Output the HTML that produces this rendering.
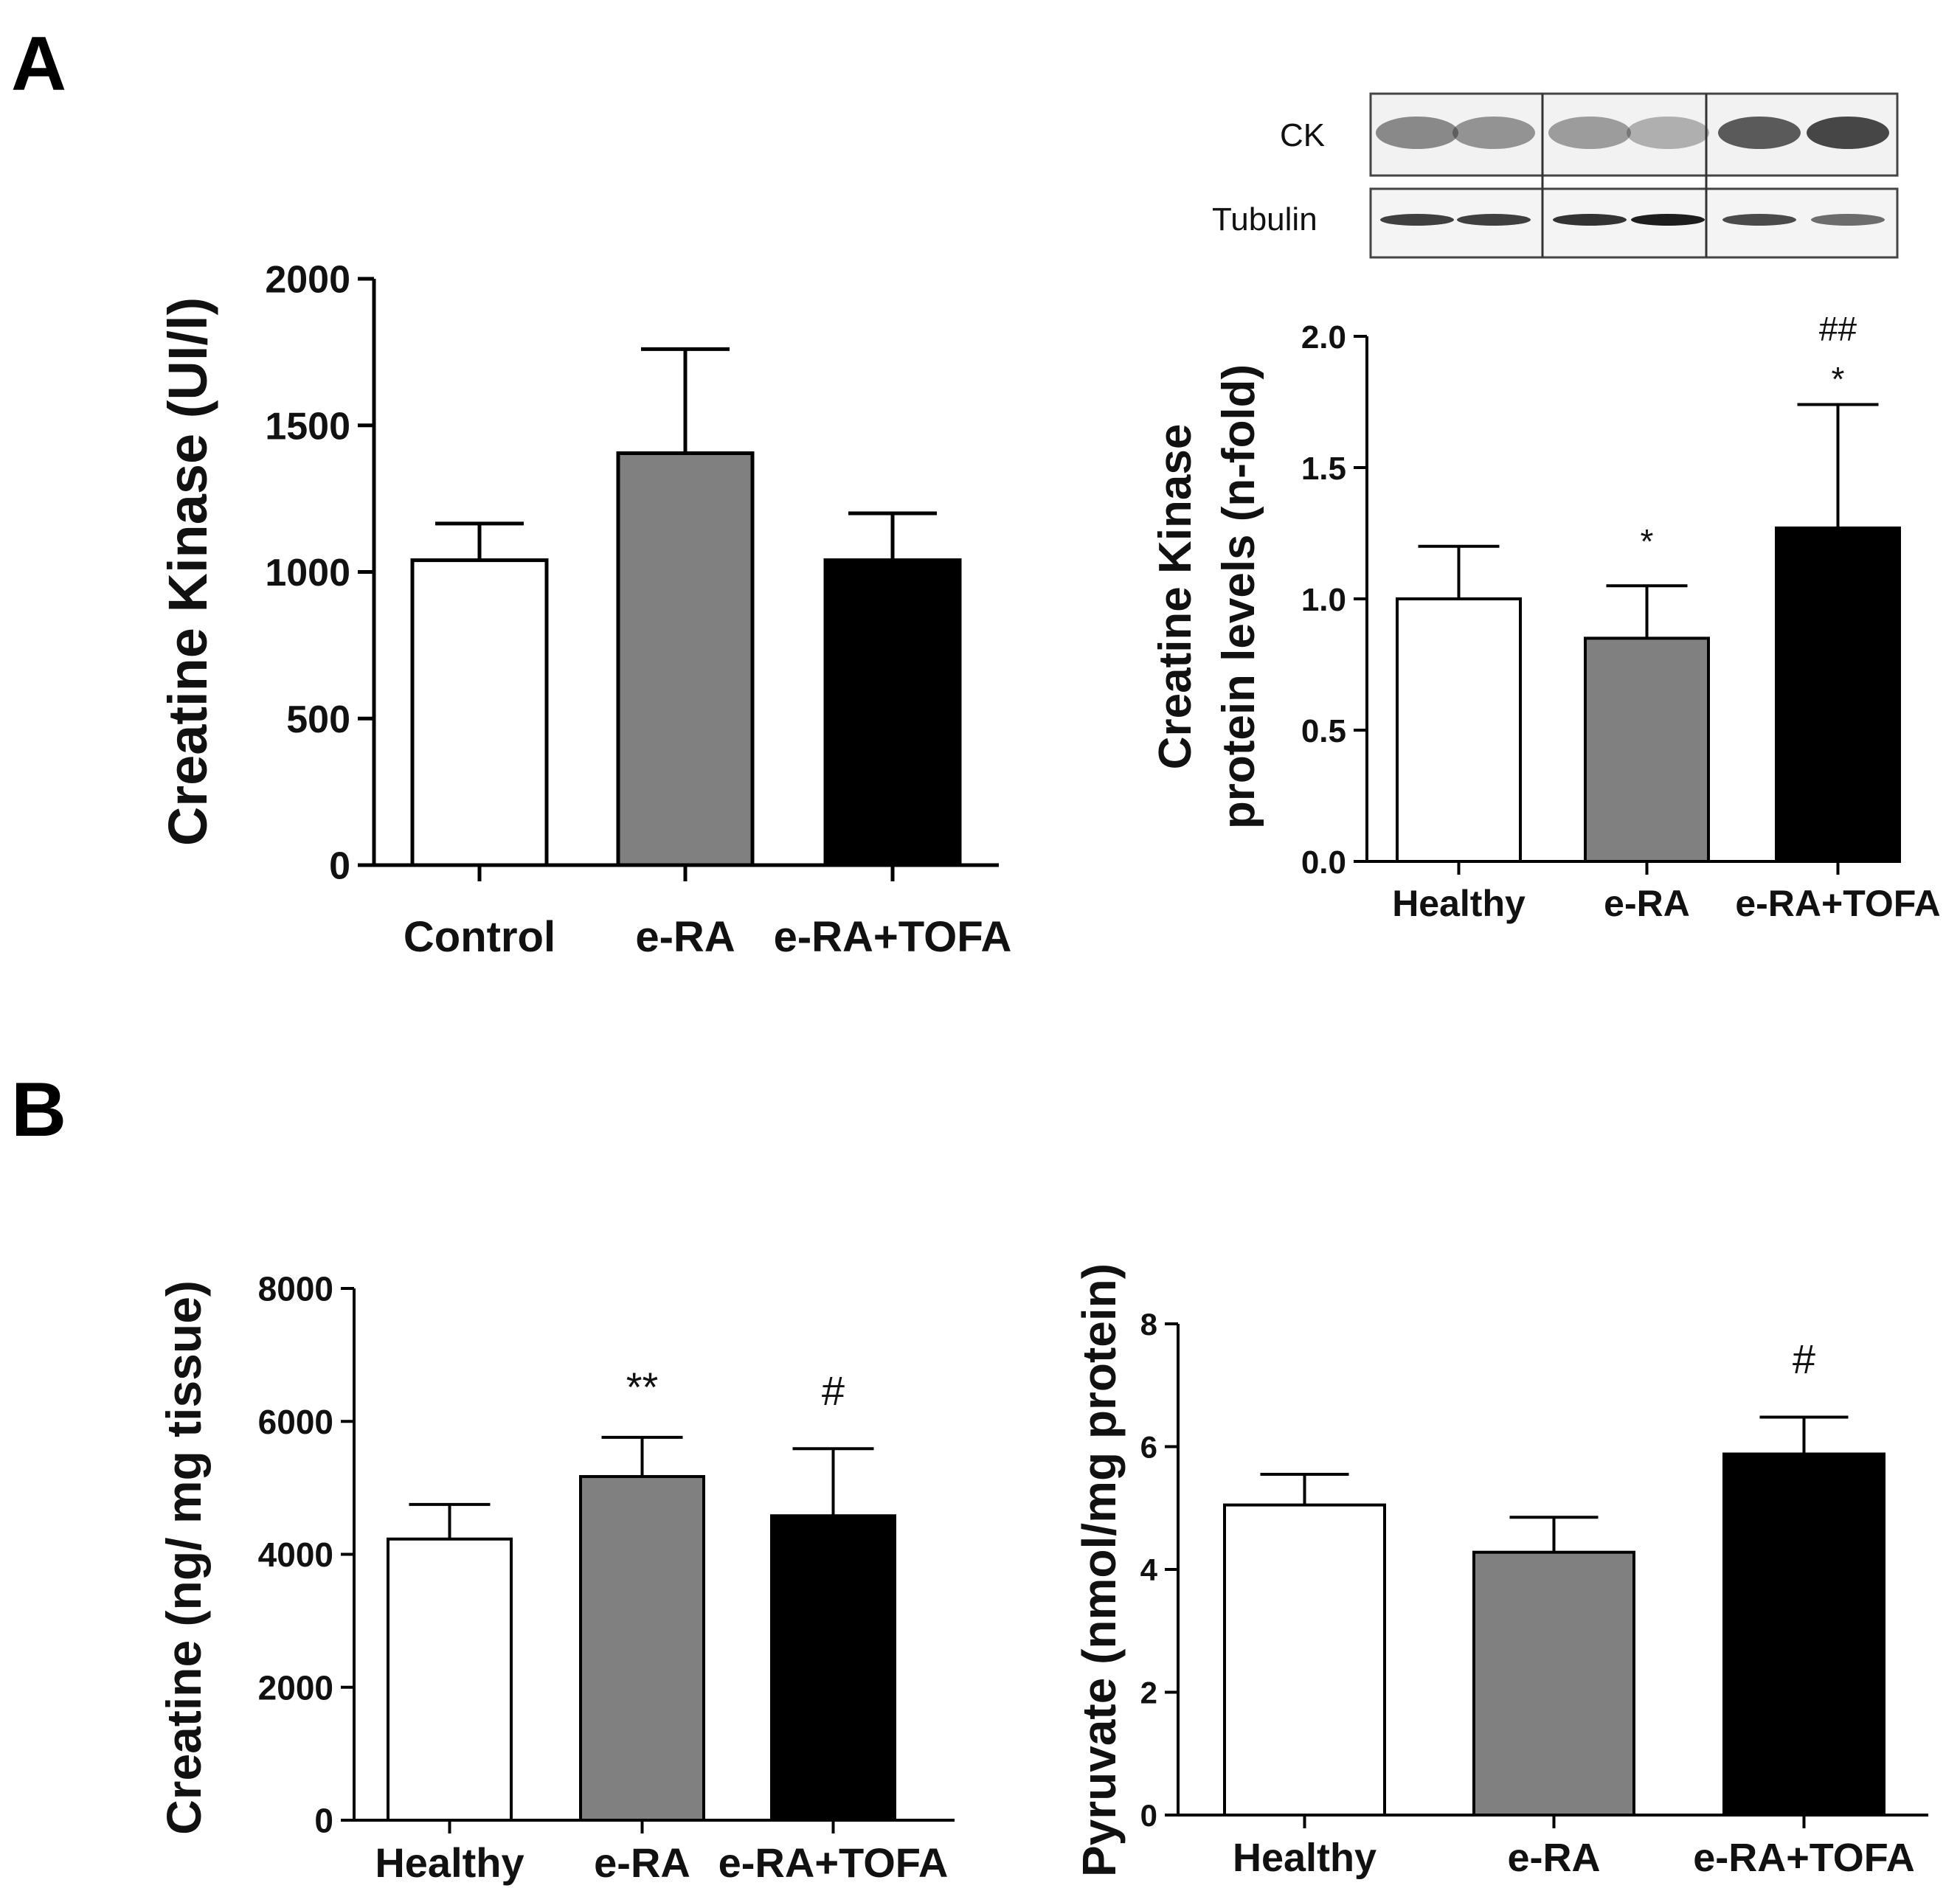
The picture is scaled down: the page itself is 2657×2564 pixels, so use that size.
<!DOCTYPE html>
<html><head><meta charset="utf-8"><style>
html,body{margin:0;padding:0;background:#fff;}
svg{display:block;font-family:"Liberation Sans",Arial,sans-serif;}
</style></head><body>
<svg id="fig" width="2657" height="2564" viewBox="0 0 2657 2564">
<text x="15" y="122" font-size="104" font-weight="bold">A</text>
<text x="15" y="1540" font-size="104" font-weight="bold">B</text>
<g>
  <text x="1735" y="198" font-size="44" fill="#111">CK</text>
  <text x="1643" y="312" font-size="44" fill="#111">Tubulin</text>
  <rect x="1858" y="127" width="714" height="111" fill="#f2f2f2" stroke="#444" stroke-width="3"/>
  <rect x="1858" y="256" width="714" height="93" fill="#f4f4f4" stroke="#444" stroke-width="3"/>
  <line x1="2091" y1="127" x2="2091" y2="349" stroke="#333" stroke-width="3"/>
  <line x1="2313" y1="127" x2="2313" y2="349" stroke="#333" stroke-width="3"/>
  <g id="bands"></g>
</g>
<g id="charts"></g>
</svg>
<script>
// Chart A1: serum creatine kinase
const a1Categories = ["Control","e-RA","e-RA+TOFA"];
const a1Values = [1040, 1405, 1040];
const a1ErrTop = [1165, 1760, 1200];
const a1Ticks = [0, 500, 1000, 1500, 2000];
const a1TickLabels = ["0","500","1000","1500","2000"];
// Chart A2: CK protein levels
const a2Categories = ["Healthy","e-RA","e-RA+TOFA"];
const a2Values = [1.0, 0.85, 1.27];
const a2ErrTop = [1.2, 1.05, 1.74];
const a2Ticks = [0, 0.5, 1.0, 1.5, 2.0];
const a2TickLabels = ["0.0","0.5","1.0","1.5","2.0"];
const a2Annot = [[], ["*"], ["*","##"]];
// Chart B1: creatine
const b1Categories = ["Healthy","e-RA","e-RA+TOFA"];
const b1Values = [4230, 5170, 4580];
const b1ErrTop = [4750, 5760, 5590];
const b1Ticks = [0, 2000, 4000, 6000, 8000];
const b1TickLabels = ["0","2000","4000","6000","8000"];
const b1Annot = [[], ["**"], ["#"]];
// Chart B2: pyruvate
const b2Categories = ["Healthy","e-RA","e-RA+TOFA"];
const b2Values = [5.05, 4.28, 5.88];
const b2ErrTop = [5.55, 4.85, 6.48];
const b2Ticks = [0, 2, 4, 6, 8];
const b2TickLabels = ["0","2","4","6","8"];
const b2Annot = [[], [], ["#"]];

const NS = "http://www.w3.org/2000/svg";
const fills = ["#ffffff","#808080","#000000"];
function mk(tag, attrs, parent){
  const e = document.createElementNS(NS, tag);
  for (const k in attrs) e.setAttribute(k, attrs[k]);
  parent.appendChild(e);
  return e;
}
function chart(cfg){
  const root = document.getElementById("charts");
  const g = mk("g", {}, root);
  
  
  const y = v => cfg.y0 - (v - cfg.ymin) / (cfg.ymax - cfg.ymin) * (cfg.y0 - cfg.y1);
  const ya = mk("line", {x1:cfg.ax, y1:y(cfg.ymax), x2:cfg.ax, y2:cfg.y0+2, stroke:"#000","stroke-width":cfg.lw}, g);
  
  
  cfg.ticks.forEach((t,i)=>{
    mk("line", {x1:cfg.ax-cfg.tick, y1:y(t), x2:cfg.ax, y2:y(t), stroke:"#000","stroke-width":cfg.lw}, g);
    const tl = mk("text", {x:cfg.ax-cfg.tick-10, y:y(t)+cfg.tfs*0.36, "font-size":cfg.tfs, "font-weight":"bold","text-anchor":"end", fill:"#111"}, g);
    tl.textContent = cfg.tickLabels[i];
    
    
  });
  const xa = mk("line", {x1:cfg.ax, y1:cfg.y0, x2:cfg.xend, y2:cfg.y0, stroke:"#000","stroke-width":cfg.lw}, g);
  
  
  cfg.cats.forEach((c,i)=>{
    const bx = cfg.bars[i];
    const cx = bx + cfg.bw/2;
    mk("line", {x1:cx, y1:y(cfg.vals[i]), x2:cx, y2:y(cfg.err[i]), stroke:"#000","stroke-width":cfg.lw}, g);
    mk("line", {x1:cx-cfg.cap, y1:y(cfg.err[i]), x2:cx+cfg.cap, y2:y(cfg.err[i]), stroke:"#000","stroke-width":cfg.lw}, g);
    const b = mk("rect", {x:bx, y:y(cfg.vals[i]), width:cfg.bw, height:cfg.y0 - y(cfg.vals[i]), fill:fills[i], stroke:"#000","stroke-width":cfg.lw}, g);
    
    
    mk("line", {x1:cx, y1:cfg.y0, x2:cx, y2:cfg.y0+cfg.tick, stroke:"#000","stroke-width":cfg.lw}, g);
    const xl = mk("text", {x:cx, y:cfg.labY, "font-size":cfg.xfs, "font-weight":"bold","text-anchor":"middle", fill:"#111"}, g);
    xl.textContent = c;
    
    
    if (cfg.annot) cfg.annot[i].forEach((a,j)=>{
      const at = mk("text", {x:cx, y:cfg.annotY[i][j], "font-size":cfg.afs, "text-anchor":"middle", fill:"#111"}, g);
      at.textContent = a;
      
      
    });
  });
  cfg.ylab.forEach((l,k)=>{
    const t = mk("text", {x:0, y:0, "font-size":cfg.yfs, "font-weight":"bold","text-anchor":"middle", fill:"#111",
      transform:`translate(${cfg.ylabX[k]},${cfg.ylabY}) rotate(-90)`}, g);
    t.textContent = l;
    
    
  });
}
chart({name:"creatine-kinase-serum-chart", ax:507, y0:1173, y1:378, ymin:0, ymax:2000, xend:1354,
  bars:[559,838,1119], bw:182, cats:a1Categories, vals:a1Values, err:a1ErrTop, ticks:a1Ticks, tickLabels:a1TickLabels,
  lw:5, tick:22, cap:60, tfs:52, xfs:58, labY:1290, ylab:["Creatine Kinase (UI/l)"], ylabX:[280], ylabY:775, yfs:74});
chart({name:"creatine-kinase-protein-chart", ax:1853, y0:1168, y1:456, ymin:0, ymax:2.0, xend:2575,
  bars:[1894,2149,2408], bw:167, cats:a2Categories, vals:a2Values, err:a2ErrTop, ticks:a2Ticks, tickLabels:a2TickLabels,
  lw:4, tick:18, cap:55, tfs:44, xfs:50, labY:1242, ylab:["Creatine Kinase","protein levels (n-fold)"], ylabX:[1614,1700], ylabY:809, yfs:62,
  annot:a2Annot, annotY:[[],[750],[530,462]], afs:46});
chart({name:"creatine-chart", ax:480, y0:2468, y1:1747, ymin:0, ymax:8000, xend:1294,
  bars:[526,787,1046], bw:167, cats:b1Categories, vals:b1Values, err:b1ErrTop, ticks:b1Ticks, tickLabels:b1TickLabels,
  lw:4, tick:18, cap:55, tfs:46, xfs:56, labY:2545, ylab:["Creatine  (ng/ mg tissue)"], ylabX:[272], ylabY:2112, yfs:66,
  annot:b1Annot, annotY:[[],[1900],[1905]], afs:56});
chart({name:"pyruvate-chart", ax:1597, y0:2461, y1:1795, ymin:0, ymax:8, xend:2614,
  bars:[1660,1998,2337], bw:217, cats:b2Categories, vals:b2Values, err:b2ErrTop, ticks:b2Ticks, tickLabels:b2TickLabels,
  lw:4, tick:18, cap:60, tfs:42, xfs:54, labY:2537, ylab:["Pyruvate (nmol/mg protein)"], ylabX:[1512], ylabY:2129, yfs:64,
  annot:b2Annot, annotY:[[],[],[1862]], afs:56});

const ckBand = [0.55,0.5,0.45,0.35,0.8,0.9];
const tubBand = [0.8,0.8,0.85,0.95,0.75,0.6];
const laneX = [1916,2020,2150,2256,2380,2500];
const bands = document.getElementById("bands");
laneX.forEach((x,i)=>{
  const c = mk("ellipse", {cx:x+5, cy:180, rx:56, ry:22, fill:"#333", opacity:ckBand[i]}, bands);
  
  
  const t = mk("ellipse", {cx:x+5, cy:298, rx:50, ry:8, fill:"#111", opacity:tubBand[i]}, bands);
  
  
});
</script>
</body></html>
